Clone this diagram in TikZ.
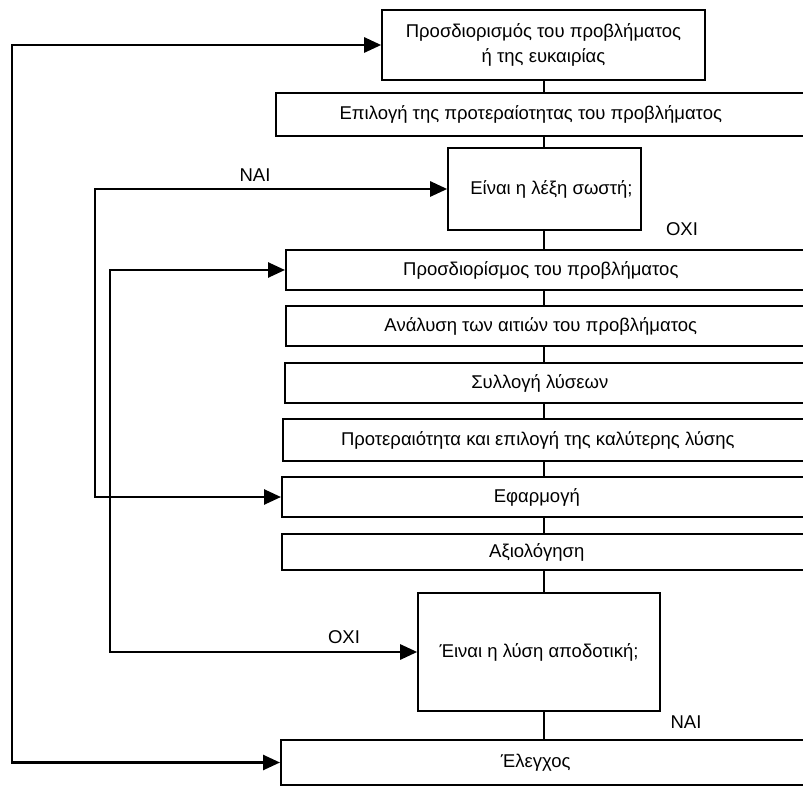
\documentclass[tikz,border=0pt]{standalone}
\usepackage{fontspec}
\setmainfont{Liberation Sans}
\usetikzlibrary{arrows.meta}

\begin{document}
\begin{tikzpicture}[x=1pt, y=-1pt, font=\fontsize{18.5}{25}\selectfont,
    >={Triangle[length=17pt, width=15pt]},
    box/.style={draw, line width=1.6pt, inner sep=0pt},
    wide/.style={box, anchor=west, minimum width=548, execute at end node={\hspace*{38pt}}},
    loopline/.style={line width=2.6pt, <->},
    link/.style={line width=1.4pt}]
    \path[use as bounding box, clip] (0,0) rectangle (803,786);

    % the chain of steps
    \node[box, minimum width=323, minimum height=70, align=center] (prob) at (543.5,45)
        {Προσδιορισμός του προβλήματος\\ή της ευκαιρίας};
    \node[wide, minimum height=43] (prio) at (275,114.5) {Επιλογή της προτεραίοτητας του προβλήματος};
    \node[box, minimum width=193, minimum height=82] (lexi) at (544.5,189) {\hspace*{14pt}Είναι η λέξη σωστή;};
    \node[wide, minimum height=40] (orismos) at (285,270) {Προσδιορίσμος του προβλήματος};
    \node[wide, minimum height=40] (analysi) at (285,326) {Ανάλυση των αιτιών του προβλήματος};
    \node[wide, minimum height=40] (lyseis) at (284,383) {Συλλογή λύσεων};
    \node[wide, minimum height=42] (epilogi) at (282,440) {Προτεραιότητα και επιλογή της καλύτερης λύσης};
    \node[wide, minimum height=40] (efarmogi) at (281,497) {Εφαρμογή};
    \node[wide, minimum height=36] (axiol) at (281,552) {Αξιολόγηση};
    \node[box, minimum width=242, minimum height=118] (apod) at (539,652) {Έιναι η λύση αποδοτική;};
    \node[wide, minimum height=45] (elegxos) at (280,762.5) {Έλεγχος};

    % answers
    \node (yes1) at (255,175) {ΝΑΙ};
    \node (no1) at (682,229) {ΟΧΙ};
    \node (no2) at (344,637) {ΟΧΙ};
    \node (yes2) at (686,722) {ΝΑΙ};

    \coordinate (spine) at (544,0);
    \coordinate (outer) at (12,0);
    \coordinate (back) at (95,0);
    \coordinate (again) at (110,0);

    \foreach \a/\b in {prob/prio, prio/lexi, lexi/orismos, orismos/analysi, analysi/lyseis,
        lyseis/epilogi, epilogi/efarmogi, efarmogi/axiol, axiol/apod, apod/elegxos}
        \draw[link] (\a.south -| spine) -- (\b.north -| spine);

    % feedback lines
    \draw[loopline] (prob.west) -| (outer |- elegxos.west) -- (elegxos.west);
    \draw[loopline] (lexi.west) -| (back |- efarmogi.west) -- (efarmogi.west);
    \draw[loopline] (orismos.west) -| (again |- apod.west) -- (apod.west);
\end{tikzpicture}
\end{document}
